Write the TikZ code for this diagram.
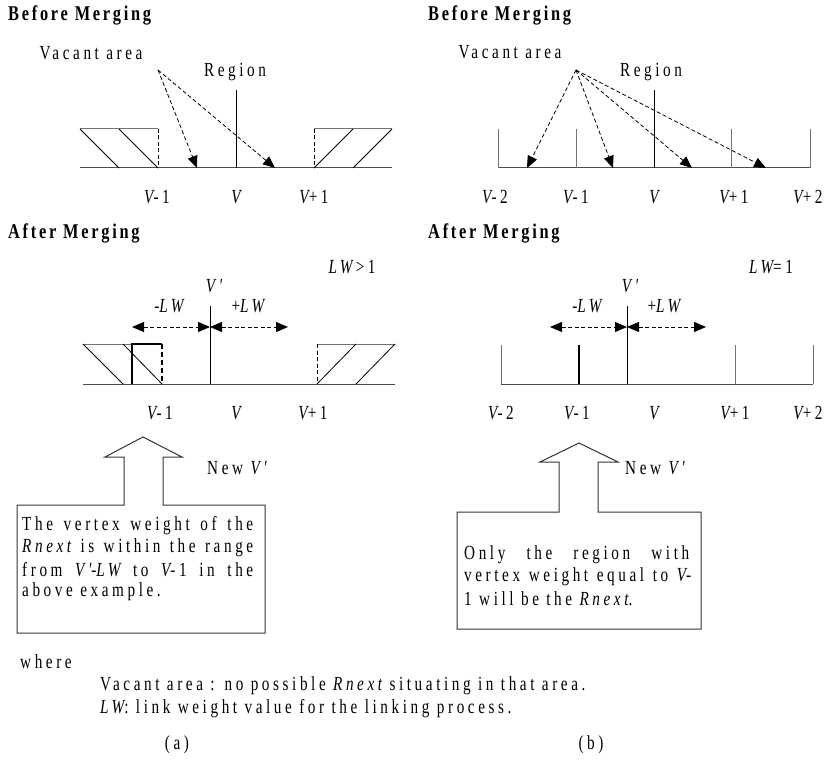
\documentclass[tikz,border=0pt]{standalone}
\usepackage{fontspec}
\setmainfont{Liberation Serif}
\newfontfamily\lblf{Liberation Serif}[FakeStretch=0.76,LetterSpace=18]
\newfontfamily\hdgf{Liberation Serif}[FakeStretch=0.78,LetterSpace=13]
\usetikzlibrary{arrows.meta}
\tikzset{
  lbl/.style={font=\fontsize{20}{22}\selectfont\lblf, inner sep=0pt},
  lgd/.style={font=\fontsize{20}{22}\selectfont\lblf, inner sep=0pt, anchor=west},
  hdg/.style={font=\fontsize{21}{23}\selectfont\hdgf\bfseries, inner sep=0pt, anchor=west},
  baseln/.style={line width=1pt, draw=black!70},
  thin/.style={line width=0.8pt},
  grayln/.style={line width=1pt, draw=black!55},
  dsh/.style={dash pattern=on 4pt off 2.5pt, line width=0.8pt},
  tri/.style={-{Triangle[length=12pt,width=10pt]}},
  dtri/.style={{Triangle[length=12pt,width=10pt]}-{Triangle[length=12pt,width=10pt]}},
  thick2/.style={line width=2.6pt},
  boxln/.style={line width=1pt, draw=black!80}
}
\begin{document}
\begin{tikzpicture}[x=1pt,y=-1pt]
\useasboundingbox (0,0) rectangle (826,762);
\fill[white] (0,0) rectangle (826,762);

% ================= (a) Before =================
\node[hdg] (ha1) at (8,15) {Before Merging};
\node[lbl] (vaa) at (91,53) {Vacant area};
\node[lbl] (rga) at (235,72) {Region};
\coordinate (sa) at (158,70);
\coordinate (ea1) at (197,168);
\coordinate (ea2) at (275,168);
\coordinate (ab0) at (80,168);
\coordinate (ab1) at (392,168);
\draw[baseln] (ab0) -- (ab1);
% left hatched
\draw[grayln] (80,129) -- (158,129);
\draw[thin] (80,129) -- (119,168);
\draw[thin] (119,129) -- (158,168);
\draw[thin,dsh] (158,129) -- (158,168);
% right hatched
\draw[grayln] (314,129) -- (392,129);
\draw[thin,dsh] (314,129) -- (314,168);
\draw[thin] (314,168) -- (353,129);
\draw[thin] (353,168) -- (392,129);
% region line
\coordinate (ra0) at (236,90);
\coordinate (ra1) at (236,168);
\draw[thin] (ra0) -- (ra1);
\draw[dsh,tri] (sa) -- (ea1);
\draw[dsh,tri] (sa) -- (ea2);
\node[lbl] (la1) at (157,197) {\itshape V\upshape -1};
\node[lbl] (la2) at (236,197) {\itshape V};
\node[lbl] (la3) at (314,197) {\itshape V\upshape +1};

% ================= (b) Before =================
\node[hdg] (hb1) at (428,15) {Before Merging};
\node[lbl] (vab) at (510,52) {Vacant area};
\node[lbl] (rgb) at (651,72) {Region};
\coordinate (sb) at (576,70);
\coordinate (eb1) at (527,168);
\coordinate (eb2) at (613,168);
\coordinate (eb3) at (692,168);
\coordinate (eb4) at (766,168);
\coordinate (bb0) at (498,168);
\coordinate (bb1) at (810,168);
\draw[baseln] (bb0) -- (bb1);
\foreach \x in {498,576,731,810} \draw[grayln] (\x,129) -- (\x,168);
\coordinate (rb0) at (654,90);
\coordinate (rb1) at (654,168);
\draw[thin] (rb0) -- (rb1);
\draw[dsh,tri] (sb) -- (eb1);
\draw[dsh,tri] (sb) -- (eb2);
\draw[dsh,tri] (sb) -- (eb3);
\draw[dsh,tri] (sb) -- (eb4);
\node[lbl] (lb1) at (495,197) {\itshape V\upshape -2};
\node[lbl] (lb2) at (576,197) {\itshape V\upshape -1};
\node[lbl] (lb3) at (654,197) {\itshape V};
\node[lbl] (lb4) at (734,197) {\itshape V\upshape +1};
\node[lbl] (lb5) at (808,197) {\itshape V\upshape +2};

% ================= (a) After =================
\node[hdg] (ha2) at (8,233) {After Merging};
\node[lbl] (lwa) at (352,267) {\itshape LW\upshape\,>\,1};
\node[lbl] (vpa) at (214,286) {\itshape V'};
\node[lbl] (mla) at (169,306) {-\itshape LW};
\node[lbl] (pla) at (248,306) {+\itshape LW};
\coordinate (aa0) at (132,327);
\coordinate (aa1) at (210,327);
\coordinate (aa2) at (288,327);
\draw[dsh,dtri] (aa0) -- (aa1);
\draw[dsh,dtri] (aa1) -- (aa2);
\draw[baseln] (83,384) -- (395,384);
\draw[grayln] (83,344) -- (162,344);
\draw[thin] (83,344) -- (123,384);
\draw[thin] (123,344) -- (162,384);
\draw[thick2] (132,384) -- (132,344) -- (162,344);
\draw[line width=2pt,dash pattern=on 5pt off 3pt] (162,344) -- (162,384);
\draw[thin] (210,306) -- (210,384);
\draw[grayln] (317,344) -- (395,344);
\draw[thin,dsh] (317,344) -- (317,384);
\draw[thin] (317,384) -- (356,344);
\draw[thin] (356,384) -- (395,344);
\node[lbl] (lc1) at (160,413) {\itshape V\upshape -1};
\node[lbl] (lc2) at (236,413) {\itshape V};
\node[lbl] (lc3) at (313,413) {\itshape V\upshape +1};

% ================= (b) After =================
\node[hdg] (hb2) at (428,233) {After Merging};
\node[lbl] (lwb) at (771,267) {\itshape LW\upshape =1};
\node[lbl] (vpb) at (630,286) {\itshape V'};
\node[lbl] (mlb) at (587,306) {-\itshape LW};
\node[lbl] (plb) at (664,306) {+\itshape LW};
\coordinate (bc0) at (550,327);
\coordinate (bc1) at (627,327);
\coordinate (bc2) at (706,327);
\draw[dsh,dtri] (bc0) -- (bc1);
\draw[dsh,dtri] (bc1) -- (bc2);
\draw[baseln] (501,384) -- (813,384);
\foreach \x in {501,735,813} \draw[grayln] (\x,345) -- (\x,384);
\draw[thick2] (579,345) -- (579,384);
\draw[thin] (627,306) -- (627,384);
\node[lbl] (ld1) at (501,413) {\itshape V\upshape -2};
\node[lbl] (ld2) at (577,413) {\itshape V\upshape -1};
\node[lbl] (ld3) at (654,413) {\itshape V};
\node[lbl] (ld4) at (735,413) {\itshape V\upshape +1};
\node[lbl] (ld5) at (808,413) {\itshape V\upshape +2};

% ================= callout (a) =================
\draw[boxln] (124,505) -- (124,457) -- (105,457) -- (143,437) -- (182,457)
  -- (163,457) -- (163,505) -- (265,505) -- (265,633) -- (17,633) -- (17,505) -- cycle;
\node[lbl,anchor=west] (nva) at (207,468) {New \itshape V'};
\node[lbl,anchor=west] (ta1) at (22,526) {\makebox[231pt][s]{The vertex weight of the}};
\node[lbl,anchor=west] (ta2) at (22,548) {\makebox[231pt][s]{\itshape Rnext\upshape{} is within the range}};
\node[lbl,anchor=west] (ta3) at (22,570) {\makebox[231pt][s]{from \itshape V'\upshape -\itshape LW\upshape{} to \itshape V\upshape -1 in the}};
\node[lbl,anchor=west] (ta4) at (22,592) {above example.};

% ================= callout (b) =================
\draw[boxln] (559,512) -- (559,462) -- (540,462) -- (579,443) -- (618,462)
  -- (598,462) -- (598,512) -- (701,512) -- (701,629) -- (457,629) -- (457,512) -- cycle;
\node[lbl,anchor=west] (nvb) at (625,468) {New \itshape V'};
\node[lbl,anchor=west] (tb1) at (464,555) {\makebox[225pt][s]{Only the region with}};
\node[lbl,anchor=west] (tb2) at (464,577) {\makebox[227pt][s]{vertex weight equal to \itshape V\upshape -}};
\node[lbl,anchor=west] (tb3) at (464,599) {1 will be the \itshape Rnext\upshape .};

% ================= legend =================
\node[lgd] (wh) at (20,662) {where};
\node[lgd] (lg1) at (100,686) {Vacant area : no possible \itshape Rnext\upshape{} situating in that area.};
\node[lgd] (lg2) at (100,709) {\itshape LW\upshape : link weight value for the linking process.};
\node[lgd,anchor=center] (ca) at (177,745) {(a)};
\node[lgd,anchor=center] (cb) at (591,745) {(b)};
\end{tikzpicture}
\end{document}
